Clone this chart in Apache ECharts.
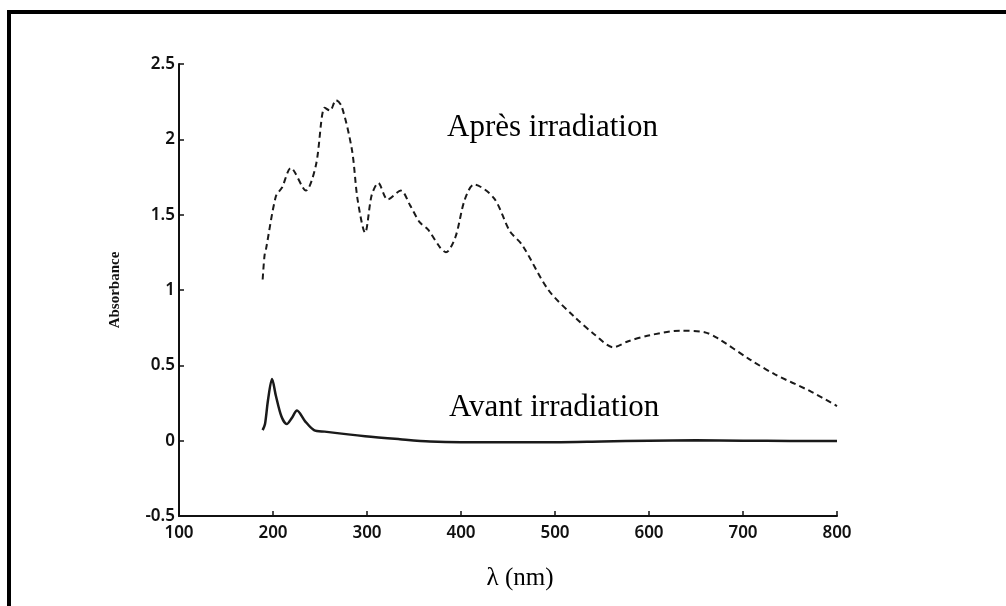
<!DOCTYPE html>
<html lang="fr">
<head>
    <meta charset="UTF-8">
    <title>Absorbance</title>
    <script type="text/javascript" src="https://cdn.jsdelivr.net/npm/echarts@6/dist/echarts.min.js"></script>
    <style>
        html, body { margin: 0; padding: 0; background: #fff; }
        #chart { width: 1006px; height: 606px; }
    </style>
</head>
<body>
<div id="chart"></div>
<script type="text/javascript">
    // spectre après irradiation (tirets)
    var apresNm = [189, 191, 192.5, 203, 209.6, 219, 235, 245.7, 255, 260.6, 267, 273, 284, 290, 298,
        305, 312, 322, 336, 346, 356, 365, 378, 384, 394, 404, 414, 435, 452, 465, 493, 521, 543,
        562, 578, 601, 633, 659, 673, 707, 734, 771, 800];
    var apresAbs = [1.07, 1.23, 1.27, 1.62, 1.68, 1.81, 1.66, 1.83, 2.21, 2.19, 2.26, 2.22, 1.93, 1.60, 1.38,
        1.63, 1.71, 1.60, 1.66, 1.56, 1.45, 1.40, 1.28, 1.25, 1.35, 1.60, 1.70, 1.61, 1.39, 1.30, 1.00, 0.82, 0.70,
        0.62, 0.66, 0.70, 0.73, 0.72, 0.68, 0.54, 0.44, 0.33, 0.23];

    // spectre avant irradiation (trait plein)
    var avantNm = [189, 191.5, 194.7, 199, 203, 209, 214.6, 220, 225.5, 234, 243.6, 255, 298, 335, 367,
        400, 450, 500, 550, 600, 650, 700, 750, 800];
    var avantAbs = [0.07, 0.11, 0.27, 0.41, 0.30, 0.16, 0.11, 0.15, 0.20, 0.13, 0.07, 0.06, 0.03, 0.01, -0.005,
        -0.01, -0.01, -0.01, -0.005, 0, 0.002, 0, -0.002, -0.003];

    var xTicks = [100, 200, 300, 400, 500, 600, 700, 800];
    var yTicks = [-0.5, 0, 0.5, 1, 1.5, 2, 2.5];

    function pairs(xs, ys) {
        var out = [];
        for (var i = 0; i < xs.length; i++) {
            out.push([xs[i], ys[i]]);
        }
        return out;
    }

    var myChart = echarts.init(document.getElementById('chart'));
    var tickFont = {color: '#111', fontFamily: 'Noto Sans', fontWeight: 600, fontSize: 17};
    var option = {
        animation: false,
        backgroundColor: '#fff',
        grid: {left: 179, right: 169, top: 64, bottom: 90},
        xAxis: {
            type: 'value',
            min: xTicks[0],
            max: xTicks[xTicks.length - 1],
            interval: 100,
            name: 'λ (nm)',
            nameLocation: 'middle',
            nameGap: 50,
            nameTextStyle: {fontFamily: 'Liberation Serif', fontSize: 25, color: '#000', padding: [0, 0, 0, 24]},
            axisLine: {onZero: false, lineStyle: {color: '#111', width: 2}},
            axisTick: {inside: true, length: 5, lineStyle: {color: '#111', width: 1.5}},
            axisLabel: Object.assign({margin: 9}, tickFont),
            splitLine: {show: false}
        },
        yAxis: {
            type: 'value',
            min: yTicks[0],
            max: yTicks[yTicks.length - 1],
            interval: 0.5,
            name: 'Absorbance',
            nameLocation: 'middle',
            nameGap: 56,
            nameRotate: 90,
            nameTextStyle: {fontFamily: 'Liberation Serif', fontWeight: 'bold', fontSize: 15, color: '#111'},
            axisLine: {show: true, onZero: false, lineStyle: {color: '#111', width: 2}},
            axisTick: {show: true, inside: true, length: 5, lineStyle: {color: '#111', width: 1.5}},
            axisLabel: Object.assign({margin: 4}, tickFont),
            splitLine: {show: false}
        },
        series: [
            {
                name: 'Après irradiation',
                type: 'line',
                data: pairs(apresNm, apresAbs),
                smooth: 0.3,
                showSymbol: false,
                lineStyle: {color: '#1a1a1a', width: 2, type: [6, 4]}
            },
            {
                name: 'Avant irradiation',
                type: 'line',
                data: pairs(avantNm, avantAbs),
                smooth: 0.3,
                showSymbol: false,
                lineStyle: {color: '#1a1a1a', width: 2.5}
            }
        ],
        graphic: [
            // cadre noir (haut et gauche)
            {type: 'rect', shape: {x: 7, y: 10, width: 1000, height: 4}, style: {fill: '#000'}},
            {type: 'rect', shape: {x: 7, y: 10, width: 4, height: 600}, style: {fill: '#000'}},
            {
                type: 'text', left: 447, top: 112,
                style: {text: 'Après irradiation', font: '31px "Liberation Serif"', fill: '#000'}
            },
            {
                type: 'text', left: 449, top: 392,
                style: {text: 'Avant irradiation', font: '31px "Liberation Serif"', fill: '#000'}
            }
        ]
    };
    myChart.setOption(option);
</script>
</body>
</html>
